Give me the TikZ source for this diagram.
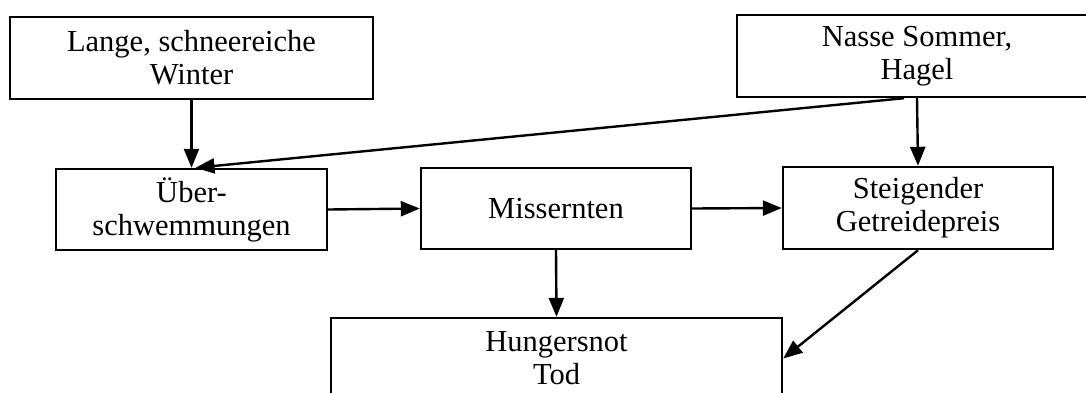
\documentclass[tikz,border=0pt]{standalone}
\usepackage{fontspec}
\setmainfont{Liberation Serif}
\usetikzlibrary{arrows.meta}
\tikzset{
  box/.style={draw, line width=2.4pt, inner sep=0pt, align=center,
    font=\fontsize{30.5}{33}\selectfont},
  link/.style={line width=2.4pt, -{Triangle[length=19pt,width=15pt]}}
}
\begin{document}
\begin{tikzpicture}[x=1pt,y=-1pt]
  \clip (0,0) rectangle (1086,392);
  \fill[white] (0,0) rectangle (1086,392);

  % causes
  \node[box, minimum width=363pt, minimum height=82pt] (winter) at (191.5,58)
    {Lange, schneereiche\\Winter};
  \node[box, minimum width=360pt, minimum height=82pt] (sommer) at (917,56)
    {Nasse Sommer,\\Hagel};

  % middle row
  \node[box, minimum width=271pt, minimum height=81pt] (flut) at (191.5,209.5)
    {Über-\\schwemmungen};
  \node[box, minimum width=270pt, minimum height=81pt] (ernte) at (556,208.5)
    {Missernten};
  \node[box, minimum width=270pt, minimum height=82pt] (preis) at (918,208)
    {Steigender\\Getreidepreis};

  % outcome
  \node[box, minimum width=451pt, minimum height=81pt] (not) at (556.5,358.5)
    {Hungersnot\\Tod};

  % effects
  \draw[link] (winter.south) -- (flut.north);
  \draw[link] ([xshift=-13pt]sommer.south) -- ([xshift=4pt]flut.north);
  \draw[link] (sommer.south) -- (preis.north);
  \draw[link] (flut.east) -- (ernte.west);
  \draw[link] (ernte.east) -- (preis.west);
  \draw[link] (ernte.south) -- (not.north);
  \draw[link] (preis.south) -- (not.east);
\end{tikzpicture}
\end{document}
